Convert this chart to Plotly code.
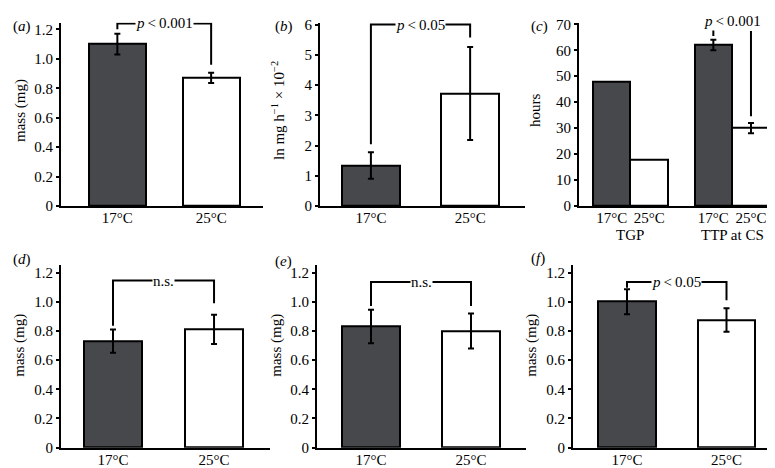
import plotly.graph_objects as go

W, H = 775, 468

# ---------------- data ----------------
temps = ["17°C", "25°C"]

a_mass = [1.10, 0.87]
a_err = [0.07, 0.035]

b_rate = [1.34, 3.72]
b_err = [0.44, 1.54]

c_groups = ["TGP", "TTP at CS"]
c_17 = [48, 62]
c_25 = [18, 30]
c_17_err = [None, 2]
c_25_err = [None, 2]

d_mass = [0.73, 0.81]
d_err = [0.08, 0.10]

e_mass = [0.83, 0.80]
e_err = [0.115, 0.12]

f_mass = [1.00, 0.875]
f_err = [0.085, 0.08]

sig_labels = {"a": "p<0.001", "b": "p<0.05", "c": "p<0.001",
              "d": "n.s.", "e": "n.s.", "f": "p<0.05"}
# bracket: (top, left-bottom, right-bottom) in data units
sig_levels = {"a": (1.24, 1.20, 0.96), "b": (6.0, 2.04, 5.57),
              "d": (1.145, 0.835, 0.99), "e": (1.135, 0.97, 0.97),
              "f": (1.135, 1.095, 1.01)}

DARK = "#47484c"
FONT = "Liberation Serif"
FS = 15

def px(x):
    return x / W

def py(y):
    return 1 - y / H

fig = go.Figure()

# panel geometry (pixels) : x0, x1, ytop, ybottom, xrange, yrange, bar width
panels = {
    "a": dict(ax="", x0=53, x1=255, yt=9.0, yb=198, xr=[-0.601, 1.553], yr=[0, 1.245], bw=0.606),
    "b": dict(ax="2", x0=312, x1=517, yt=9.0, yb=198, xr=[-0.513, 1.553], yr=[0, 6.06], bw=0.58),
    "c": dict(ax="3", x0=571, x1=775, yt=9.0, yb=198, xr=[-0.506, 1.50], yr=[0, 70.6], bw=0.37),
    "d": dict(ax="4", x0=53, x1=262, yt=259, yb=447, xr=[-0.515, 1.554], yr=[0, 1.25], bw=0.574),
    "e": dict(ax="5", x0=309, x1=518, yt=259, yb=447, xr=[-0.54, 1.55], yr=[0, 1.25], bw=0.58),
    "f": dict(ax="6", x0=565, x1=775, yt=259, yb=447, xr=[-0.543, 1.568], yr=[0, 1.25], bw=0.575),
}

simple = {"a": (a_mass, a_err), "b": (b_rate, b_err), "d": (d_mass, d_err),
          "e": (e_mass, e_err), "f": (f_mass, f_err)}

def bar(xs, ys, errs, color, ax, bw):
    err = None
    if errs is not None:
        err = dict(type="data", array=errs, color="black", thickness=2, width=3, visible=True)
    return go.Bar(
        x=xs, y=ys, width=bw, cliponaxis=False,
        marker=dict(color=color, line=dict(color="black", width=2)),
        error_y=err,
        xaxis="x" + ax, yaxis="y" + ax, showlegend=False,
    )

for key, (vals, errs) in simple.items():
    p = panels[key]
    xs = list(range(len(temps)))
    fig.add_trace(bar([xs[0]], [vals[0]], [errs[0]], DARK, p["ax"], p["bw"]))
    fig.add_trace(bar([xs[1]], [vals[1]], [errs[1]], "white", p["ax"], p["bw"]))

# panel c: grouped bars (one trace per bar so missing error bars draw nothing)
pc = panels["c"]
off = pc["bw"] / 2
c_x17 = [i - off for i in range(len(c_groups))]
c_x25 = [i + off for i in range(len(c_groups))]
for i in range(len(c_groups)):
    e17 = None if c_17_err[i] is None else [c_17_err[i]]
    e25 = None if c_25_err[i] is None else [c_25_err[i]]
    fig.add_trace(bar([c_x17[i]], [c_17[i]], e17, DARK, "3", pc["bw"]))
    fig.add_trace(bar([c_x25[i]], [c_25[i]], e25, "white", "3", pc["bw"]))

layout = dict(width=W, height=H, margin=dict(l=0, r=0, t=0, b=0),
              paper_bgcolor="white", plot_bgcolor="white",
              font=dict(family=FONT, size=FS, color="black"), bargap=0)

for key, p in panels.items():
    ax = p["ax"]
    xname = "xaxis" + ax
    yname = "yaxis" + ax
    if key == "c":
        tickvals = c_x17 + c_x25
        ticktext = [temps[0]] * len(c_groups) + [temps[1]] * len(c_groups)
    else:
        tickvals = [0, 1]
        ticktext = temps
    layout[xname] = dict(domain=[px(p["x0"]), px(p["x1"])], range=p["xr"],
                         anchor="y" + ax, showline=True, linecolor="black", linewidth=2,
                         ticks="", showgrid=False, zeroline=False,
                         tickvals=tickvals, ticktext=ticktext, ticklabelstandoff=-3,
                         tickfont=dict(family=FONT, size=FS))
    layout[yname] = dict(domain=[py(p["yb"]), py(p["yt"])], range=p["yr"],
                         anchor="x" + ax, showline=True, linecolor="black", linewidth=2,
                         ticks="outside", ticklen=3, tickwidth=1.5, tickcolor="black",
                         showgrid=False, zeroline=False,
                         tickfont=dict(family=FONT, size=FS))
    if key in ("a", "d", "e", "f"):
        layout[yname].update(tickvals=[0, 0.2, 0.4, 0.6, 0.8, 1.0, 1.2],
                             ticktext=["0", "0.2", "0.4", "0.6", "0.8", "1.0", "1.2"])
    elif key == "b":
        layout[yname].update(dtick=1)
    else:
        layout[yname].update(dtick=10)

fig.update_layout(**layout)

shapes = []
annotations = []

def fmt(label):
    if label.startswith("p"):
        return "<i>p</i>\u2009&lt;\u20090" + label.split("<0")[1]
    return label

for key, (top, lb, rb) in sig_levels.items():
    ax = panels[key]["ax"]
    xr, yr = "x" + ax, "y" + ax
    line = dict(color="black", width=2)
    shapes.append(dict(type="path", xref=xr, yref=yr,
                       path=f"M 0 {lb} L 0 {top} L 1 {top} L 1 {rb}", line=line))
    annotations.append(dict(x=0.5, y=top, xref=xr, yref=yr, text=fmt(sig_labels[key]),
                            showarrow=False, bgcolor="white", borderpad=0,
                            xanchor="center", yanchor="middle",
                            font=dict(family=FONT, size=FS)))

# panel c bracket (over TTP at CS group)
shapes.append(dict(type="line", xref="x3", yref="y3", x0=c_x17[1], x1=c_x17[1],
                   y0=65.5, y1=67.6, line=dict(color="black", width=2)))
shapes.append(dict(type="line", xref="x3", yref="y3", x0=c_x25[1], x1=c_x25[1],
                   y0=34.6, y1=67.4, line=dict(color="black", width=2)))
annotations.append(dict(x=1, y=py(7.5), xref="x3", yref="paper", text=fmt(sig_labels["c"]),
                        showarrow=False, xanchor="center", yanchor="middle",
                        font=dict(family=FONT, size=FS)))

# group labels for panel c
for i, g in enumerate(c_groups):
    annotations.append(dict(x=i, y=py(228), xref="x3", yref="paper", text=g,
                            showarrow=False, xanchor="center", yanchor="middle",
                            font=dict(family=FONT, size=FS)))

# panel letters
letters = {"a": (14, 13), "b": (276, 13), "c": (531, 13),
           "d": (14, 253), "e": (275, 255), "f": (530, 252)}
for k, (lx, ly) in letters.items():
    annotations.append(dict(x=px(lx), y=py(ly), xref="paper", yref="paper",
                            text=f"(<i>{k}</i>)", showarrow=False,
                            xanchor="center", yanchor="middle",
                            font=dict(family=FONT, size=FS)))

# y-axis titles
ytitles = [("mass (mg)", 12, 100), ("ln mg h<sup>−1</sup> × 10<sup>−2</sup>", 270, 100),
           ("hours", 527, 100), ("mass (mg)", 12, 342), ("mass (mg)", 269, 342),
           ("mass (mg)", 524, 342)]
for t, tx, ty in ytitles:
    annotations.append(dict(x=px(tx), y=py(ty), xref="paper", yref="paper", text=t,
                            textangle=-90, showarrow=False,
                            xanchor="center", yanchor="middle",
                            font=dict(family=FONT, size=FS)))

fig.update_layout(shapes=shapes, annotations=annotations)
fig.write_html("out.html")
